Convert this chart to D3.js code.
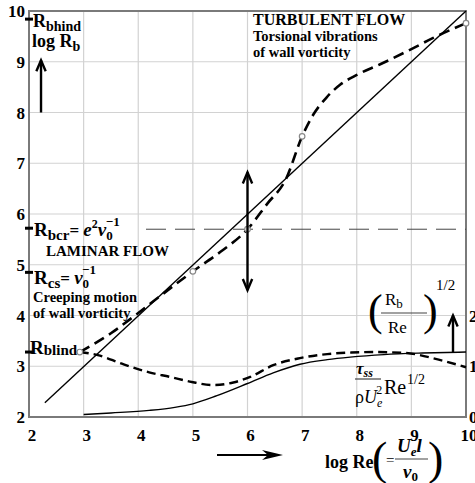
<!DOCTYPE html>
<html>
<head>
<meta charset="utf-8">
<script src="https://cdn.jsdelivr.net/npm/d3@7"></script>
<style>
  body { margin: 0; background: #fff; }
  svg { display: block; font-family: "Liberation Serif", "DejaVu Serif", serif; font-weight: bold; }
</style>
</head>
<body>
<div id="plot"></div>
<script>
// axis ticks
var xTicks = [2, 3, 4, 5, 6, 7, 8, 9, 10];
var yTicks = [2, 3, 4, 5, 6, 7, 8, 9, 10];
var yRightTicks = [0, 1, 2];

// log Rb vs log Re (left axis)
var straightX = [2.29, 10];
var straightY = [2.28, 10];
var upperX = [2.93, 3.5, 3.94, 4.3, 5, 5.5, 6, 6.36, 6.7, 7, 7.2, 7.45, 7.7, 8.0, 8.43, 9.0, 9.4, 10];
var upperY = [3.28, 3.65, 4.0, 4.3, 4.87, 5.25, 5.7, 6.2, 6.68, 7.53, 7.95, 8.3, 8.55, 8.74, 8.95, 9.25, 9.47, 9.76];
var circleX = [2.93, 5, 6, 7, 10];
var circleY = [3.28, 4.87, 5.7, 7.53, 9.76];
var rbcr = 5.7;

// lower curves (right axis)
var frictionX = [3, 3.5, 4.2, 4.67, 5, 5.44, 6, 6.47, 6.96, 7.46, 7.88, 8.5, 9.2, 10];
var frictionY = [0.05, 0.08, 0.13, 0.19, 0.26, 0.42, 0.66, 0.87, 1.04, 1.13, 1.18, 1.23, 1.26, 1.28];
var ratioX = [2.93, 3.26, 3.7, 4.2, 4.58, 4.98, 5.37, 5.74, 6.05, 6.47, 6.96, 7.46, 7.9, 8.3, 8.9, 9.5, 10];
var ratioY = [1.28, 1.22, 1.05, 0.88, 0.79, 0.69, 0.63, 0.68, 0.79, 1.02, 1.16, 1.24, 1.27, 1.28, 1.26, 1.13, 0.98];

// marks on the left axis
var levelNames = ["bhind", "bcr", "cs", "blind"];
var levelValues = [9.84, 5.72, 4.85, 3.28];

var W = 475, H = 483;
var svg = d3.select("#plot").append("svg").attr("width", W).attr("height", H);

var x = d3.scaleLinear().domain([2, 10]).range([29, 466]);
var y = d3.scaleLinear().domain([2, 10]).range([417, 11]);
var yR = d3.scaleLinear().domain([0, 8]).range([417, 11]);

// grid
svg.append("g").selectAll("line").data(xTicks.slice(1, -1)).enter().append("line")
  .attr("x1", function(d){ return x(d); }).attr("x2", function(d){ return x(d); })
  .attr("y1", y(10)).attr("y2", y(2))
  .attr("stroke", "#d2d2d2").attr("stroke-width", 1.2);
svg.append("g").selectAll("line").data(yTicks.slice(1, -1)).enter().append("line")
  .attr("x1", x(2)).attr("x2", x(10))
  .attr("y1", function(d){ return y(d); }).attr("y2", function(d){ return y(d); })
  .attr("stroke", "#d2d2d2").attr("stroke-width", 1.2);

// frame
svg.append("rect").attr("x", x(2)).attr("y", y(10))
  .attr("width", x(10) - x(2)).attr("height", y(2) - y(10))
  .attr("fill", "none").attr("stroke", "#7a7a7a").attr("stroke-width", 2);

// tick labels
svg.append("g").selectAll("text").data(xTicks).enter().append("text")
  .attr("x", function(d){ return x(d) + 3; }).attr("y", 441)
  .attr("text-anchor", "middle").attr("font-size", 17).text(function(d){ return d; });
svg.append("g").selectAll("text").data(yTicks).enter().append("text")
  .attr("x", 25).attr("y", function(d){ return y(d) + 6; })
  .attr("text-anchor", "end").attr("font-size", 17).text(function(d){ return d; });
svg.append("g").selectAll("text").data(yRightTicks).enter().append("text")
  .attr("x", 469).attr("y", function(d){ return yR(d) + 6; })
  .attr("font-size", 17).text(function(d){ return d; });

// Rbcr level
svg.append("line").attr("x1", 146).attr("x2", x(10))
  .attr("y1", y(rbcr)).attr("y2", y(rbcr))
  .attr("stroke", "#444").attr("stroke-width", 1).attr("stroke-dasharray", "20,9");

var line = d3.line().curve(d3.curveMonotoneX);

function pts(xs, ys, sy) {
  return xs.map(function(v, i){ return [x(v), sy(ys[i])]; });
}

svg.append("path").attr("d", line(pts(straightX, straightY, y)))
  .attr("fill", "none").attr("stroke", "#000").attr("stroke-width", 1.4);
svg.append("path").attr("d", line(pts(upperX, upperY, y)))
  .attr("fill", "none").attr("stroke", "#000").attr("stroke-width", 2.6)
  .attr("stroke-dasharray", "11,6");
svg.append("path").attr("d", line(pts(frictionX, frictionY, yR)))
  .attr("fill", "none").attr("stroke", "#000").attr("stroke-width", 1.4);
svg.append("path").attr("d", line(pts(ratioX, ratioY, yR)))
  .attr("fill", "none").attr("stroke", "#000").attr("stroke-width", 2.4)
  .attr("stroke-dasharray", "9,5");

svg.append("g").selectAll("circle").data(circleX).enter().append("circle")
  .attr("cx", function(d){ return x(d); })
  .attr("cy", function(d, i){ return y(circleY[i]); })
  .attr("r", 2.8).attr("fill", "#fff").attr("stroke", "#888").attr("stroke-width", 1.2);

// level marks on left axis
svg.append("g").selectAll("line").data(levelValues).enter().append("line")
  .attr("x1", 25).attr("x2", 33)
  .attr("y1", function(d){ return y(d); }).attr("y2", function(d){ return y(d); })
  .attr("stroke", "#000").attr("stroke-width", 3);

// arrows
function arrow(x1, y1, x2, y2, both) {
  var g = svg.append("g").attr("stroke", "#000").attr("fill", "none").attr("stroke-width", 2.4);
  g.append("line").attr("x1", x1).attr("y1", y1).attr("x2", x2).attr("y2", y2);
  function head(ax, ay, bx, by) {
    var a = Math.atan2(ay - by, ax - bx), L = 12, s = 0.4;
    g.append("path").attr("d", "M" + (ax - L * Math.cos(a - s)) + "," + (ay - L * Math.sin(a - s)) +
      "L" + ax + "," + ay + "L" + (ax - L * Math.cos(a + s)) + "," + (ay - L * Math.sin(a + s)));
  }
  head(x2, y2, x1, y1);
  if (both) head(x1, y1, x2, y2);
}
arrow(x(2.22), y(8), x(2.22), y(9.03), false);
arrow(x(6), y(4.5), x(6), y(6.82), true);
arrow(453, yR(1.28), 453, yR(2.0), false);

// bottom arrow
svg.append("line").attr("x1", 217).attr("x2", 272).attr("y1", 455).attr("y2", 455)
  .attr("stroke", "#000").attr("stroke-width", 2.2);
svg.append("path").attr("d", "M262,450 L283,455 L262,460 L268,455 Z").attr("fill", "#000");

// texts
function txt(xp, yp, size, parts) {
  var t = svg.append("text").attr("x", xp).attr("y", yp).attr("font-size", size);
  parts.forEach(function(p){
    var s = t.append("tspan").text(p.t);
    if (p.size) s.attr("font-size", p.size);
    if (p.dy) s.attr("dy", p.dy);
    if (p.it) s.attr("font-style", "italic");
    if (p.dx) s.attr("dx", p.dx);
  });
  return t;
}

txt(33, 27, 18, [{t: "R"}, {t: levelNames[0], size: 14, dy: 4}]);
txt(32, 47, 18, [{t: "log R"}, {t: "b", size: 14, dy: 4}]);

txt(253, 25, 16, [{t: "TURBULENT FLOW"}]);
txt(253, 41, 14.5, [{t: "Torsional vibrations"}]);
txt(253, 57, 14.5, [{t: "of wall vorticity"}]);

txt(34, 236, 19, [{t: "R"}, {t: levelNames[1], size: 15, dy: 4}, {t: "= ", dy: -4, size: 17},
  {t: "e", it: true}, {t: "2", size: 12, dy: -8}, {t: "ν", it: true, dy: 8},
  {t: "0", size: 13, dy: 4}, {t: "−1", size: 13, dy: -14, dx: -7}]);
txt(46, 256, 15, [{t: "LAMINAR FLOW"}]);
txt(34, 284, 19, [{t: "R"}, {t: levelNames[2], size: 15, dy: 4}, {t: "= ", dy: -4, size: 17},
  {t: "ν", it: true}, {t: "0", size: 13, dy: 4}, {t: "−1", size: 13, dy: -14, dx: -7}]);
txt(33, 302, 14.5, [{t: "Creeping motion"}]);
txt(33, 318, 14.5, [{t: "of wall vorticity"}]);
txt(30, 354, 19, [{t: "R"}, {t: levelNames[3], size: 15, dy: 1}]);

// (Rb/Re)^1/2
txt(368, 325, 44, [{t: "("}]).attr("font-weight", "normal");
txt(385, 305, 17, [{t: "R"}, {t: "b", size: 13, dy: 3}]).attr("font-weight", "normal");
svg.append("line").attr("x1", 381).attr("x2", 427).attr("y1", 313).attr("y2", 313).attr("stroke", "#444").attr("stroke-width", 1.2);
txt(388, 333, 17, [{t: "Re"}]).attr("font-weight", "normal");
txt(423, 325, 44, [{t: ")"}]).attr("font-weight", "normal");
txt(436, 290, 15, [{t: "1/2"}]).attr("font-weight", "normal");

// tau_ss / (rho Ue^2) Re^1/2
txt(356, 374, 17, [{t: "τ", it: true}, {t: "ss", size: 12, dy: 3, it: true}]);
svg.append("line").attr("x1", 355).attr("x2", 381).attr("y1", 379).attr("y2", 379).attr("stroke", "#444").attr("stroke-width", 1.2);
txt(355, 403, 18, [{t: "ρ"}, {t: "U", it: true}, {t: "e", size: 12, dy: 4, it: true}, {t: "2", size: 12, dy: -13, dx: -6}]).attr("font-weight", "normal");
txt(384, 394, 20, [{t: "Re"}]).attr("font-weight", "normal");
txt(407, 384, 14, [{t: "1/2"}]).attr("font-weight", "normal");

// log Re ( = Ue l / nu0 )
txt(325, 468, 18, [{t: "log Re"}]);
txt(372, 474, 46, [{t: "("}]).attr("font-weight", "normal");
txt(386, 465, 15, [{t: "="}]).attr("font-weight", "normal");
txt(397, 452, 19, [{t: "U", it: true}, {t: "e", size: 13, dy: 4, it: true}, {t: "l", it: true, dy: -4}]);
svg.append("line").attr("x1", 395).attr("x2", 428).attr("y1", 459).attr("y2", 459).attr("stroke", "#444").attr("stroke-width", 1.2);
txt(403, 478, 19, [{t: "ν", it: true}, {t: "0", size: 13, dy: 3}]);
txt(428, 474, 46, [{t: ")"}]).attr("font-weight", "normal");
</script>
</body>
</html>
